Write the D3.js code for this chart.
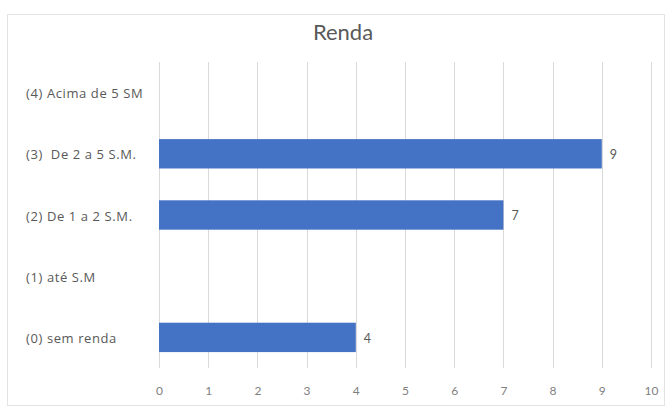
<!DOCTYPE html>
<html>
<head>
<meta charset="utf-8">
<script src="https://cdn.jsdelivr.net/npm/d3@7"></script>
<style>
  html, body { margin: 0; padding: 0; background: #fff; }
  svg { display: block; font-family: Lato, "Open Sans", sans-serif; }
</style>
</head>
<body>
<svg id="chart" width="671" height="408"></svg>
<script>
// Income brackets (top to bottom) and respondent counts
const categories = ["(4) Acima de 5 SM", "(3)  De 2 a 5 S.M.", "(2) De 1 a 2 S.M.", "(1) até S.M", "(0) sem renda"];
const values = [0, 9, 7, 0, 4];
const xTicks = [0, 1, 2, 3, 4, 5, 6, 7, 8, 9, 10];
const title = "Renda";

const FONT = "Lato, 'Open Sans', sans-serif";
const LABEL_FONT = "'Open Sans', Lato, sans-serif";
const svg = d3.select("#chart");
const plot = { left: 159, right: 651, top: 62, bottom: 368 };

// chart frame
svg.append("rect")
  .attr("x", 7.5).attr("y", 14.5)
  .attr("width", 657).attr("height", 391)
  .attr("fill", "#fff").attr("stroke", "#e3e3e3").attr("stroke-width", 1);

svg.append("text")
  .attr("x", 343).attr("y", 40)
  .attr("text-anchor", "middle")
  .attr("font-size", 22)
  .attr("fill", "#595959")
  .text(title);

const x = d3.scaleLinear().domain([0, 10]).range([plot.left, plot.right]);
const y = d3.scaleBand().domain(categories).range([plot.top, plot.bottom]).paddingInner(0.52).paddingOuter(0.26);

// vertical gridlines
svg.append("g").selectAll("line").data(xTicks).join("line")
  .attr("x1", d => Math.round(x(d)) + 0.5).attr("x2", d => Math.round(x(d)) + 0.5)
  .attr("y1", plot.top).attr("y2", plot.bottom)
  .attr("stroke", "#d9d9d9").attr("stroke-width", 1);

// x axis tick labels
const xAxis = d3.axisBottom(x).tickValues(xTicks).tickSize(0).tickPadding(0);
const gx = svg.append("g").attr("transform", `translate(0,${plot.bottom + 18})`).call(xAxis);
gx.select(".domain").remove();
gx.selectAll("text")
  .attr("font-family", FONT)
  .attr("font-size", 12).attr("fill", "#7f7f7f");

// category labels, left aligned
const yAxis = d3.axisLeft(y).tickSize(0);
const gy = svg.append("g").attr("transform", `translate(${plot.left},1.5)`).call(yAxis);
gy.select(".domain").remove();
gy.selectAll("text")
  .attr("x", 26 - plot.left)
  .attr("text-anchor", "start")
  .attr("font-family", LABEL_FONT)
  .attr("font-size", 13).attr("fill", "#595959")
  .attr("letter-spacing", 0.6)
  .style("white-space", "pre");

const data = categories.map((c, i) => ({ c, v: values[i] }));

// bars
svg.append("g").selectAll("rect").data(data.filter(d => d.v > 0)).join("rect")
  .attr("x", x(0))
  .attr("y", d => y(d.c))
  .attr("width", d => x(d.v) - x(0))
  .attr("height", y.bandwidth())
  .attr("fill", "#4472C4");

// value labels
svg.append("g").selectAll("text").data(data.filter(d => d.v > 0)).join("text")
  .attr("x", d => x(d.v) + 8)
  .attr("y", d => y(d.c) + y.bandwidth() / 2 + 1)
  .attr("dy", "0.35em")
  .attr("font-size", 12.5)
  .attr("fill", "#595959")
  .text(d => d.v);
</script>
</body>
</html>
